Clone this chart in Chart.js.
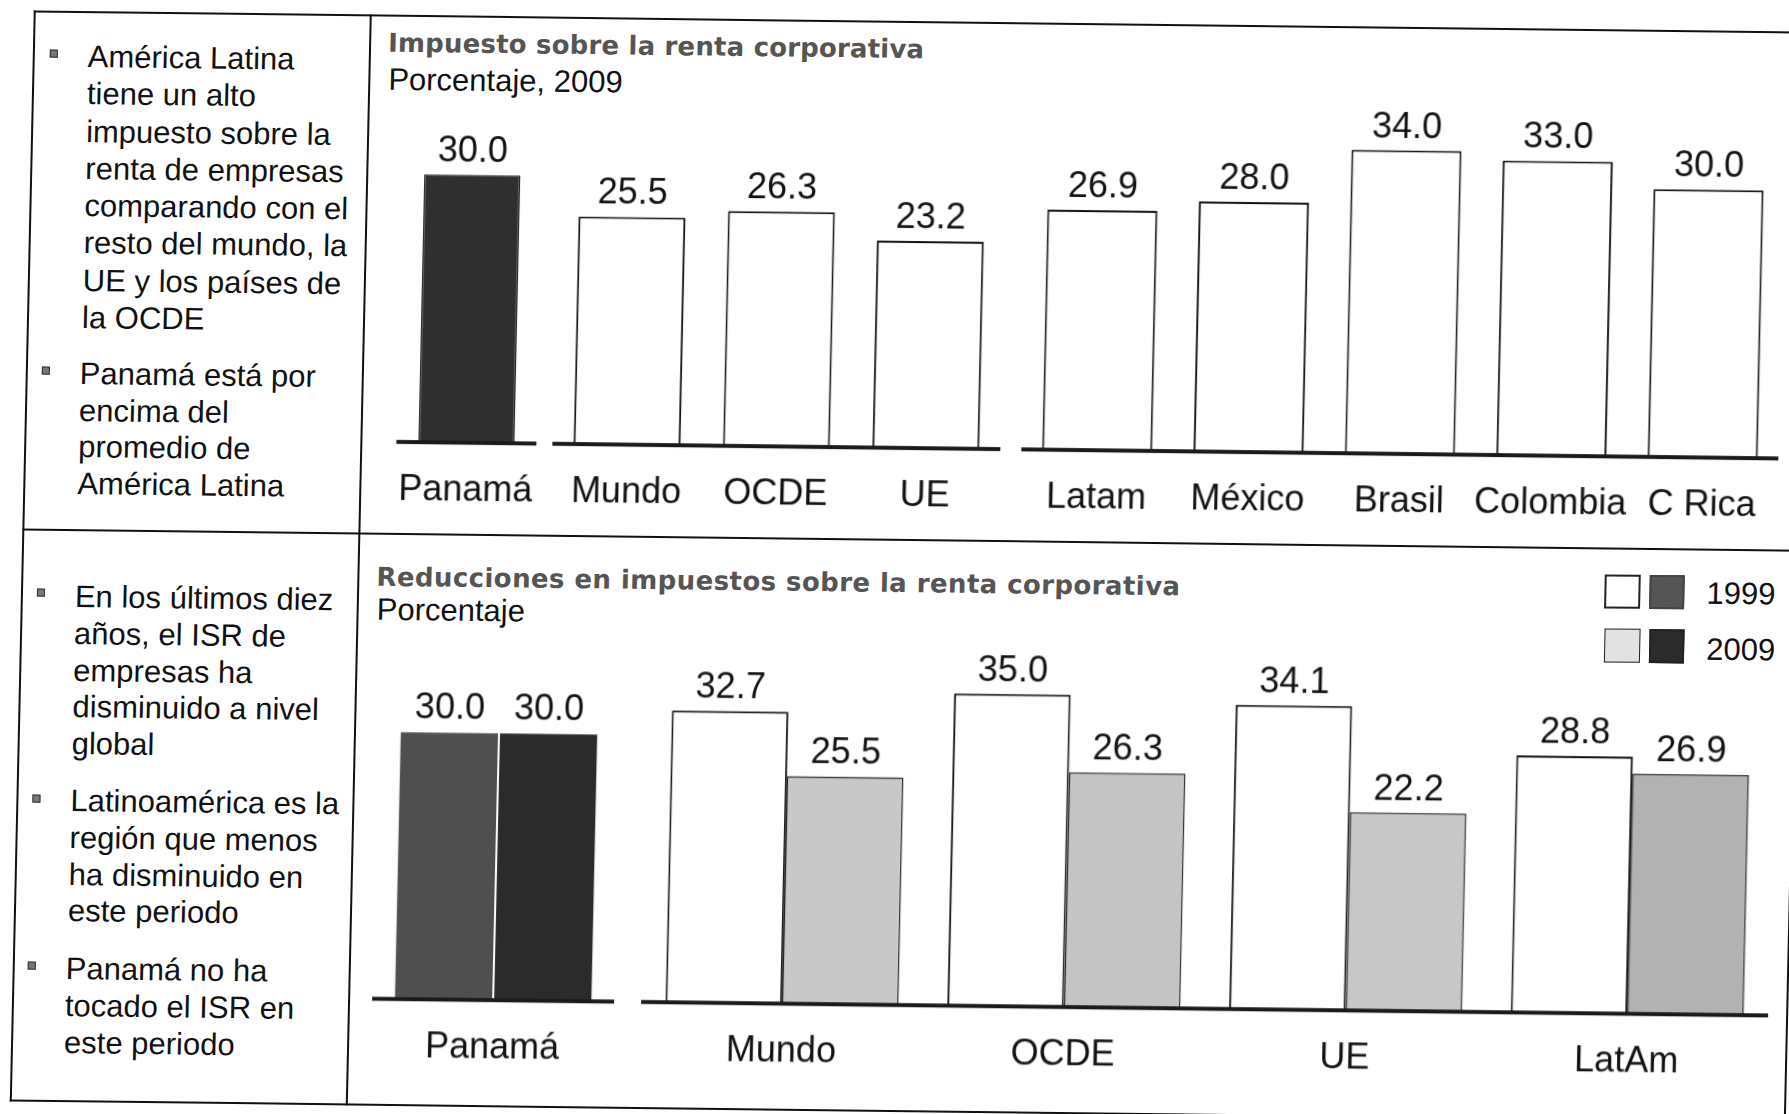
<!DOCTYPE html>
<html><head><meta charset="utf-8">
<script src="https://cdn.jsdelivr.net/npm/chart.js@4.4.1/dist/chart.umd.min.js"></script>
<style>
html,body{margin:0;padding:0;background:#fff;overflow:hidden;width:1789px;height:1114px}
#page{position:absolute;left:0;top:0;width:1840px;height:1140px;transform-origin:0 0;transform:matrix(1,0.012,-0.022,1,0,0);font-family:"Liberation Sans",Arial,sans-serif;color:#111}
.ln{position:absolute;background:#111}
.txt{position:absolute;font-size:31px;white-space:nowrap}
.bul{position:absolute;width:6px;height:6px;background:#777;border:1px solid #333}
.ttl{position:absolute;font-family:"DejaVu Sans",sans-serif;font-weight:bold;font-size:26px;line-height:30px;color:#555;white-space:nowrap}
canvas{position:absolute}
.sw{position:absolute;box-sizing:border-box;border:2px solid #222}
</style></head>
<body>
<div id="page">
  <!-- frame -->
  <div class="ln" style="left:34px;top:10px;width:1776px;height:2px"></div>
  <div class="ln" style="left:34px;top:10px;width:2px;height:1091px"></div>
  <div class="ln" style="left:34px;top:1099px;width:1776px;height:2px"></div>
  <div class="ln" style="left:34px;top:528px;width:1776px;height:2px"></div>
  <div class="ln" style="left:370px;top:10px;width:2px;height:1091px"></div>
  <div class="ln" style="left:1808px;top:528px;width:2px;height:573px"></div>

  <!-- left notes -->
  <div class="bul" style="left:51px;top:49px"></div>
  <div class="txt" style="left:89px;top:37px;line-height:37.3px">América Latina<br>tiene un alto<br>impuesto sobre la<br>renta de empresas<br>comparando con el<br>resto del mundo, la<br>UE y los países de<br>la OCDE</div>
  <div class="bul" style="left:50px;top:366px"></div>
  <div class="txt" style="left:88px;top:355px;line-height:36.5px">Panamá está por<br>encima del<br>promedio de<br>América Latina</div>

  <div class="bul" style="left:50px;top:588px"></div>
  <div class="txt" style="left:88px;top:578px;line-height:36.8px">En los últimos diez<br>años, el ISR de<br>empresas ha<br>disminuido a nivel<br>global</div>
  <div class="bul" style="left:50px;top:794px"></div>
  <div class="txt" style="left:88px;top:782px;line-height:36.8px">Latinoamérica es la<br>región que menos<br>ha disminuido en<br>este periodo</div>
  <div class="bul" style="left:49px;top:961px"></div>
  <div class="txt" style="left:87px;top:949px;line-height:37px">Panamá no ha<br>tocado el ISR en<br>este periodo</div>

  <!-- chart titles -->
  <div class="ttl" data-w="536" style="left:389px;top:23px">Impuesto sobre la renta corporativa</div>
  <div class="txt" style="left:390px;top:56px;line-height:37px">Porcentaje, 2009</div>
  <div class="ttl" data-w="804" style="left:389px;top:557px">Reducciones en impuestos sobre la renta corporativa</div>
  <div class="txt" style="left:390px;top:586px;line-height:37px">Porcentaje</div>

  <!-- legend -->
  <div class="sw" style="left:1617px;top:555px;width:36px;height:34px;background:#fff"></div>
  <div class="sw" style="left:1662px;top:555px;width:35px;height:34px;background:#555;border-color:#444"></div>
  <div class="txt" id="lg1" style="left:1719px;top:554px;line-height:37px"></div>
  <div class="sw" style="left:1618px;top:609px;width:36px;height:34px;background:#e2e2e2;border-width:1.5px"></div>
  <div class="sw" style="left:1663px;top:609px;width:35px;height:34px;background:#2b2b2b"></div>
  <div class="txt" id="lg2" style="left:1720px;top:610px;line-height:37px"></div>
</div>
<script>
// ---- data ----
const topCategories = ['Panamá', 'Mundo', 'OCDE', 'UE', 'Latam', 'México', 'Brasil', 'Colombia', 'C Rica'];
const topValues2009 = [30.0, 25.5, 26.3, 23.2, 26.9, 28.0, 34.0, 33.0, 30.0];
const topGroupSizes = [1, 3, 5];
const bottomCategories = ['Panamá', 'Mundo', 'OCDE', 'UE', 'LatAm'];
const values1999 = [30.0, 32.7, 35.0, 34.1, 28.8];
const values2009 = [30.0, 25.5, 26.3, 22.2, 26.9];
const legendYears = ['1999', '2009'];

// ---- styles ----
const light2009 = ['#c8c8c8', '#c4c4c4', '#c7c7c7', '#b2b2b2'];
const FONT = '"Liberation Sans", Arial, sans-serif';
const AREA_H = 357, PAD_B = 70, Y_MAX = 40;
const page = document.getElementById('page');
document.getElementById('lg1').textContent = legendYears[0];
document.getElementById('lg2').textContent = legendYears[1];

document.querySelectorAll('[data-w]').forEach(el => {
  const target = +el.dataset.w;
  const w = el.offsetWidth;
  const n = el.textContent.length;
  el.style.letterSpacing = ((target - w) / n) + 'px';
});

const labelPlugin = {
  id: 'barLabels',
  afterDraw(chart) {
    const ctx = chart.ctx;
    ctx.save();
    ctx.font = '36px ' + FONT;
    ctx.fillStyle = '#111';
    ctx.textAlign = 'center';
    ctx.textBaseline = 'alphabetic';
    chart.data.datasets.forEach((ds, di) => {
      chart.getDatasetMeta(di).data.forEach((bar, i) => {
        ctx.fillText(ds.data[i].toFixed(1), bar.x, bar.y - 13);
      });
    });
    const xs = chart.scales.x;
    chart.data.labels.forEach((l, i) => {
      ctx.fillText(l, xs.getPixelForTick(i), chart.chartArea.bottom + 58);
    });
    ctx.restore();
  }
};

function barChart(left, width, baseline, labels, datasets) {
  const c = document.createElement('canvas');
  const h = AREA_H + PAD_B;
  c.width = width; c.height = h;
  c.style.left = left + 'px'; c.style.top = (baseline - AREA_H) + 'px';
  c.style.width = width + 'px'; c.style.height = h + 'px';
  page.appendChild(c);
  return new Chart(c, {
    type: 'bar',
    data: { labels, datasets },
    options: {
      responsive: false, devicePixelRatio: 1, animation: false, events: [],
      layout: { padding: { top: 0, left: 0, right: 0, bottom: PAD_B } },
      plugins: { legend: { display: false }, tooltip: { enabled: false } },
      scales: {
        x: { z: 1, grid: { display: false, drawTicks: false }, border: { display: true, width: 4, color: '#1a1a1a', z: 2 }, ticks: { display: false } },
        y: { display: false, min: 0, max: Y_MAX }
      }
    },
    plugins: [labelPlugin]
  });
}

// top panel: three segments
const segA = [0, topGroupSizes[0]];
const segB = [segA[1], segA[1] + topGroupSizes[1]];
const segC = [segB[1], segB[1] + topGroupSizes[2]];
barChart(406, 140, 437, topCategories.slice(...segA), [{
  data: topValues2009.slice(...segA), backgroundColor: '#2f2f2f', borderColor: '#222', borderWidth: 1.5,
  barPercentage: 0.686, categoryPercentage: 1
}]);
barChart(562, 448, 437, topCategories.slice(...segB), [{
  data: topValues2009.slice(...segB), backgroundColor: '#fff', borderColor: '#111', borderWidth: 2,
  barPercentage: 0.716, categoryPercentage: 1
}]);
barChart(1031, 757, 437, topCategories.slice(...segC), [{
  data: topValues2009.slice(...segC), backgroundColor: '#fff', borderColor: '#111', borderWidth: 2,
  barPercentage: 0.727, categoryPercentage: 1
}]);

// bottom panel: Panamá + the rest
barChart(394, 242, 994, bottomCategories.slice(0, 1), [
  { label: legendYears[0], data: values1999.slice(0, 1), backgroundColor: '#4f4f4f', borderColor: '#fff', borderWidth: 1, barPercentage: 1, categoryPercentage: 0.82 },
  { label: legendYears[1], data: values2009.slice(0, 1), backgroundColor: '#2b2b2b', borderColor: '#fff', borderWidth: 1, barPercentage: 1, categoryPercentage: 0.82 }
]);
barChart(663, 1127, 994, bottomCategories.slice(1), [
  { label: legendYears[0], data: values1999.slice(1), backgroundColor: '#fff', borderColor: '#111', borderWidth: 2, barPercentage: 1, categoryPercentage: 0.827 },
  { label: legendYears[1], data: values2009.slice(1), backgroundColor: light2009, borderColor: '#222', borderWidth: 1.5, barPercentage: 1, categoryPercentage: 0.827 }
]);
</script>
</body></html>
